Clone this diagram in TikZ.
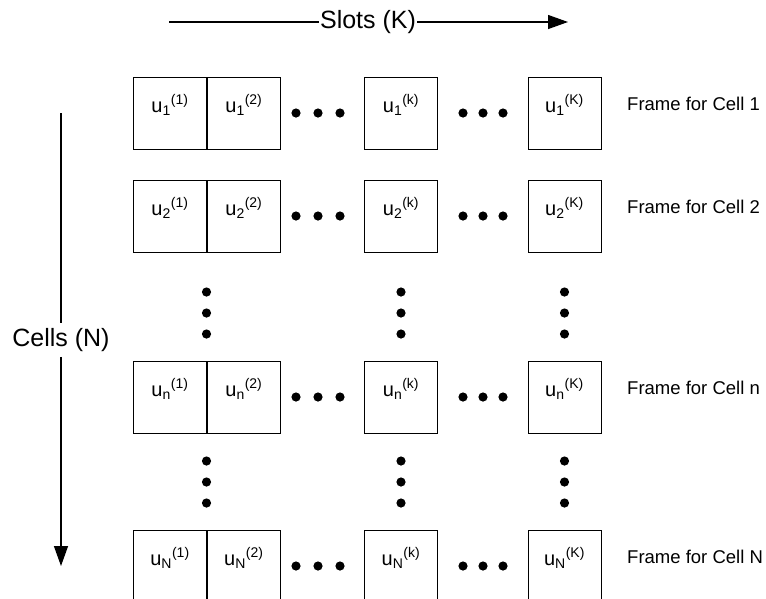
\documentclass[tikz,border=0pt]{standalone}
\usepackage{fontspec}
\setmainfont{Liberation Sans}
\usetikzlibrary{arrows.meta,positioning}
\begin{document}
\begin{tikzpicture}
    [x=1pt, y=-1pt,
     slot/.style={draw, line width=0.9pt, minimum width=73pt, minimum height=72pt, inner sep=0pt,
                  text height=11pt, text depth=13pt, font=\fontsize{20}{23}\selectfont},
     frame/.style={anchor=west, inner sep=0pt, font=\fontsize{18.5}{21}\selectfont},
     axis/.style={fill=white, inner xsep=1pt, inner ysep=5pt, font=\fontsize{25}{30}\selectfont},
     axisline/.style={line width=1.3pt}]
    \useasboundingbox (0,0) rectangle (766,598);
    % axes
    \coordinate (slotsL) at (169,22);
    \coordinate (slotsR) at (568,22);
    \node[axis] (slots) at (368,22) {Slots (K)};
    \draw[axisline] (slotsL) -- (slots);
    \draw[axisline, -{Triangle[length=20pt, width=14pt]}] (slots) -- (slotsR);
    \coordinate (cellsT) at (61,113);
    \coordinate (cellsB) at (61,566);
    \node[axis] (cells) at (61,340) {Cells (N)};
    \draw[axisline] (cellsT) -- (cells);
    \draw[axisline, -{Triangle[length=20pt, width=14pt]}] (cells) -- (cellsB);
    % frames
    \foreach \r/\y in {1/113, 2/216, n/397, N/566} {
        \node[slot] (u\r a) at (170,\y) {u\textsubscript{\r}\textsuperscript{(1)}};
        \node[slot, right=0pt of u\r a] (u\r b) {u\textsubscript{\r}\textsuperscript{(2)}};
        \node[slot] (u\r k) at (401,\y) {u\textsubscript{\r}\textsuperscript{(k)}};
        \node[slot] (u\r K) at (564.5,\y) {u\textsubscript{\r}\textsuperscript{(K)}};
        \node[frame] (frame\r) at (627,\y-9) {Frame for Cell \r};
        \foreach \x in {296,318,340,463,483,503}
            \fill (\x,\y) circle (4.6pt);
    }
    % vertical dots
    \foreach \x in {206.5,401,564.5}
        \foreach \y in {292,313,334,461,482,503}
            \fill (\x,\y) circle (4.6pt);
\end{tikzpicture}
\end{document}
